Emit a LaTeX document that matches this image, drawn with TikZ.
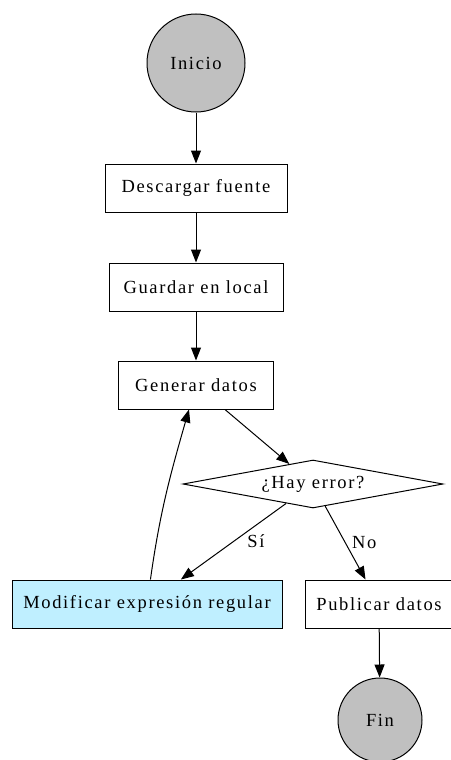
\documentclass[tikz,border=0pt]{standalone}
\usepackage{fontspec}
\setmainfont{Liberation Serif}[LetterSpace=9]
\usepackage{xcolor}
\usetikzlibrary{shapes.geometric,arrows.meta,positioning}

\definecolor{nodegray}{HTML}{C0C0C0}
\definecolor{lightblue}{HTML}{BFEFFF}

\begin{document}
\begin{tikzpicture}[x=1pt,y=1pt,
    font=\fontsize{18.5}{20}\selectfont,
    every path/.style={line width=1pt},
    flow/.style={-{Triangle[length=13pt,width=10pt]}},
    endpoint/.style={circle,draw,fill=nodegray,inner sep=0pt},
    process/.style={rectangle,draw,minimum height=48pt,inner sep=0pt},
    decision/.style={diamond,draw,aspect=5.4,inner sep=0pt,minimum width=260pt,minimum height=48pt}]
    \useasboundingbox (0,0) rectangle (450,-760);

    \node[endpoint,minimum size=98pt] (inicio) at (196,-63) {Inicio};
    \node[process,minimum width=182pt] (descargar) at (196,-188) {Descargar fuente};
    \node[process,minimum width=174pt] (guardar) at (196,-287) {Guardar en local};
    \node[process,minimum width=155pt] (generar) at (196,-385) {Generar datos};
    \node[decision] (error) at (313,-484) {¿Hay error?};
    \node[process,minimum width=270pt,fill=lightblue] (modificar) at (147,-604) {Modificar expresión regular};
    \node[process,minimum width=148pt] (publicar) at (379,-604) {Publicar datos};
    \node[endpoint,minimum size=84pt] (fin) at (380,-720) {Fin};

    \draw[flow] (inicio) -- (descargar);
    \draw[flow] (descargar) -- (guardar);
    \draw[flow] (guardar) -- (generar);
    \draw[flow] (generar) -- (error);
    \draw[flow] (error) -- node[right=10pt] {Sí} (modificar);
    \draw[flow] (error) -- node[right=3pt] {No} (publicar);
    \draw[flow] (modificar) to[out=82,in=-106] (generar);
    \draw[flow] (publicar) -- (fin);
\end{tikzpicture}
\end{document}
